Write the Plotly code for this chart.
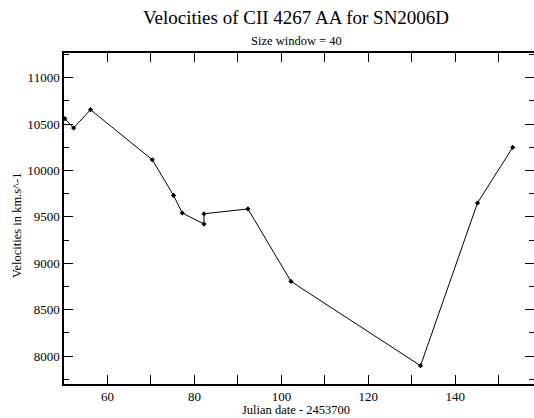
import plotly.graph_objects as go

julian_days = [50.2, 52.2, 56.1, 70.3, 75.2, 77.2, 82.2, 82.2, 92.3, 102.2, 132.0, 145.1, 153.2]
velocities = [10558, 10458, 10655, 10116, 9732, 9542, 9423, 9534, 9586, 8805, 7897, 9650, 10249]

y_ticks = [8000, 8500, 9000, 9500, 10000, 10500, 11000]
x_ticks = [60, 80, 100, 120, 140]

title_text = "Velocities of CII 4267 AA for SN2006D"
subtitle_text = "Size window = 40"
x_title = "Julian date - 2453700"
y_title = "Velocities in km.s^-1"

FONT = "Liberation Serif, Times New Roman, serif"
W = 534
L = 64
cx = (296 - L) / (W - L)
Y_RANGE = [7700, 11266]

fig = go.Figure()
fig.add_trace(go.Scatter(
    x=julian_days, y=velocities, mode="lines+markers",
    line=dict(color="black", width=1),
    marker=dict(symbol="diamond", size=4, color="black"),
    showlegend=False, cliponaxis=False,
))
# invisible copy on the right-hand axis so that its ticks get drawn
fig.add_trace(go.Scatter(
    x=julian_days, y=velocities, mode="lines", yaxis="y2",
    line=dict(color="rgba(0,0,0,0)", width=0), hoverinfo="skip", showlegend=False,
))

tick_common = dict(ticks="inside", ticklen=9, tickwidth=1, tickcolor="black",
                   showgrid=False, zeroline=False)

fig.update_layout(
    width=W, height=418,
    margin=dict(l=L, r=0, t=53, b=34),
    paper_bgcolor="white", plot_bgcolor="white",
    font=dict(family=FONT, color="black", size=13),
    xaxis=dict(
        range=[50, 158.1], tickvals=x_ticks, tickformat="d",
        showline=True, linecolor="black", linewidth=1.5, mirror="allticks",
        minor=dict(dtick=10, tick0=50, ticks="inside", ticklen=5, tickcolor="black", tickwidth=1),
        tickfont=dict(family=FONT, size=13), ticklabelstandoff=0, **tick_common,
    ),
    yaxis=dict(
        range=Y_RANGE, tickvals=y_ticks, tickformat="d",
        showline=True, linecolor="black", linewidth=1.5, mirror=False,
        minor=dict(dtick=250, tick0=7750, ticks="inside", ticklen=5, tickcolor="black", tickwidth=1),
        tickfont=dict(family=FONT, size=13), ticklabelstandoff=0, **tick_common,
    ),
    yaxis2=dict(
        range=Y_RANGE, tickvals=y_ticks, overlaying="y", side="right", showline=False,
        showticklabels=False,
        minor=dict(dtick=250, tick0=7750, ticks="inside", ticklen=5, tickcolor="black", tickwidth=1),
        **tick_common,
    ),
    annotations=[
        dict(text=title_text, xref="paper", yref="paper", x=cx, y=1, yanchor="middle",
             yshift=35.5, showarrow=False, font=dict(family=FONT, size=19)),
        dict(text=subtitle_text, xref="paper", yref="paper", x=cx, y=1, yanchor="middle",
             yshift=12, showarrow=False, font=dict(family=FONT, size=12.5)),
        dict(text=x_title, xref="paper", yref="paper", x=cx, y=0, yanchor="middle",
             yshift=-26, showarrow=False, font=dict(family=FONT, size=12.5)),
        dict(text=y_title, xref="paper", yref="paper", x=0, y=0.48, xanchor="center",
             yanchor="middle", xshift=-47, textangle=-90, showarrow=False,
             font=dict(family=FONT, size=12.5)),
    ],
)

fig.write_html(
    "out.html",
    config={"displayModeBar": False},
    post_script="document.body.style.margin='0';document.body.style.overflow='hidden';",
)
